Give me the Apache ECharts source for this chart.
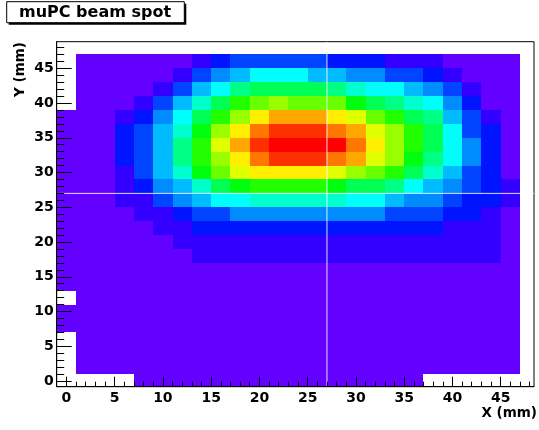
<!DOCTYPE html>
<html>
<head>
<meta charset="utf-8">
<script src="https://cdn.jsdelivr.net/npm/echarts@6/dist/echarts.min.js"></script>
<style>
  html, body { margin: 0; padding: 0; background: #fff; }
  #chart { width: 539px; height: 430px; }
</style>
</head>
<body>
<div id="chart"></div>
<script>
// bin centres in mm, every bin is 2 mm wide
var xBins = [0, 2, 4, 6, 8, 10, 12, 14, 16, 18, 20, 22, 24, 26, 28, 30, 32, 34, 36, 38, 40, 42, 44, 46];
// rows listed top to bottom, same order as zRows
var yBins = [46, 44, 42, 40, 38, 36, 34, 32, 30, 28, 26, 24, 22, 20, 18, 16, 14, 12, 10, 8, 6, 4, 2, 0];

// contour level of each bin (0 = lowest filled, 19 = peak), null = empty bin
var N = null;
var zRows = [
  [N, 0, 0, 0, 0, 0, 0, 1, 2, 3, 3, 3, 3, 3, 2, 2, 2, 1, 1, 1, 0, 0, 0, 0],
  [N, 0, 0, 0, 0, 0, 1, 3, 4, 5, 6, 6, 6, 5, 5, 4, 4, 3, 3, 2, 1, 0, 0, 0],
  [N, 0, 0, 0, 0, 1, 3, 5, 6, 8, 9, 9, 9, 9, 8, 7, 6, 6, 5, 4, 3, 1, 0, 0],
  [N, 0, 0, 0, 1, 3, 5, 7, 9, 11, 12, 13, 12, 12, 12, 10, 9, 8, 7, 6, 4, 2, 0, 0],
  [0, 0, 0, 1, 2, 4, 6, 9, 11, 13, 15, 16, 16, 16, 15, 14, 12, 11, 9, 8, 5, 3, 1, 0],
  [0, 0, 0, 2, 3, 5, 7, 10, 13, 15, 17, 18, 18, 18, 17, 16, 14, 13, 11, 9, 6, 3, 2, 0],
  [0, 0, 0, 2, 3, 5, 8, 11, 14, 16, 18, 19, 19, 19, 19, 17, 15, 13, 11, 9, 6, 4, 2, 0],
  [0, 0, 0, 2, 3, 5, 8, 11, 13, 15, 17, 18, 18, 18, 17, 16, 14, 13, 10, 8, 6, 4, 2, 0],
  [0, 0, 0, 1, 3, 5, 7, 10, 12, 14, 15, 15, 15, 15, 14, 13, 12, 11, 9, 7, 5, 3, 2, 0],
  [0, 0, 0, 1, 2, 4, 5, 7, 9, 10, 11, 11, 11, 11, 10, 9, 9, 8, 6, 5, 4, 3, 2, 1],
  [0, 0, 0, 1, 1, 3, 4, 5, 6, 6, 7, 7, 7, 7, 7, 6, 6, 5, 4, 4, 3, 2, 2, 1],
  [0, 0, 0, 0, 1, 1, 2, 3, 3, 4, 4, 4, 4, 4, 4, 4, 4, 3, 3, 3, 2, 2, 1, 0],
  [0, 0, 0, 0, 0, 1, 1, 2, 2, 2, 2, 2, 2, 2, 2, 2, 2, 2, 2, 2, 1, 1, 1, 0],
  [0, 0, 0, 0, 0, 0, 1, 1, 1, 1, 1, 1, 1, 1, 1, 1, 1, 1, 1, 1, 1, 1, 1, 0],
  [0, 0, 0, 0, 0, 0, 0, 1, 1, 1, 1, 1, 1, 1, 1, 1, 1, 1, 1, 1, 1, 1, 1, 0],
  [0, 0, 0, 0, 0, 0, 0, 0, 0, 0, 0, 0, 0, 0, 0, 0, 0, 0, 0, 0, 0, 0, 0, 0],
  [0, 0, 0, 0, 0, 0, 0, 0, 0, 0, 0, 0, 0, 0, 0, 0, 0, 0, 0, 0, 0, 0, 0, 0],
  [N, 0, 0, 0, 0, 0, 0, 0, 0, 0, 0, 0, 0, 0, 0, 0, 0, 0, 0, 0, 0, 0, 0, 0],
  [0, 0, 0, 0, 0, 0, 0, 0, 0, 0, 0, 0, 0, 0, 0, 0, 0, 0, 0, 0, 0, 0, 0, 0],
  [0, 0, 0, 0, 0, 0, 0, 0, 0, 0, 0, 0, 0, 0, 0, 0, 0, 0, 0, 0, 0, 0, 0, 0],
  [N, 0, 0, 0, 0, 0, 0, 0, 0, 0, 0, 0, 0, 0, 0, 0, 0, 0, 0, 0, 0, 0, 0, 0],
  [N, 0, 0, 0, 0, 0, 0, 0, 0, 0, 0, 0, 0, 0, 0, 0, 0, 0, 0, 0, 0, 0, 0, 0],
  [N, 0, 0, 0, 0, 0, 0, 0, 0, 0, 0, 0, 0, 0, 0, 0, 0, 0, 0, 0, 0, 0, 0, 0],
  [N, N, N, N, 0, 0, 0, 0, 0, 0, 0, 0, 0, 0, 0, 0, 0, 0, 0, N, N, N, N, N]
];

var majorTicks = [0, 5, 10, 15, 20, 25, 30, 35, 40, 45];
var minorTicks = [];
for (var t = 0; t <= 48; t++) if (t % 5 !== 0) minorTicks.push(t);

var crossX = 27, crossY = 27;
var xMin = -1, xMax = 48.45;
var yMin = -0.82, yMax = 48.83;

// ROOT "pretty" palette, 20 contour colours
var palette = ['#6300ff', '#3300ff', '#0014ff', '#0044ff', '#008bff', '#00bbff', '#00fffc',
  '#00ffcc', '#00ff85', '#00ff55', '#00ff0e', '#22ff00', '#69ff00', '#99ff00', '#e0ff00',
  '#ffee00', '#ffa700', '#ff7700', '#ff3000', '#ff0000'];

var bins = [];
zRows.forEach(function (row, r) {
  row.forEach(function (v, c) {
    if (v !== null) bins.push([xBins[c], yBins[r], v]);
  });
});

var font = '"DejaVu Sans", sans-serif';

function renderBin(params, api) {
  var x = api.value(0), y = api.value(1);
  var a = api.coord([x - 1, y + 1]);
  var b = api.coord([x + 1, y - 1]);
  var cs = params.coordSys;
  var r = echarts.graphic.clipRectByRect(
    { x: a[0], y: a[1], width: b[0] - a[0], height: b[1] - a[1] },
    { x: cs.x, y: cs.y, width: cs.width, height: cs.height }
  );
  if (!r) return;
  // snap edges to whole pixels so neighbouring bins meet without seams
  var x0 = Math.round(r.x), y0 = Math.round(r.y);
  var x1 = Math.round(r.x + r.width), y1 = Math.round(r.y + r.height);
  return {
    type: 'rect',
    shape: { x: x0, y: y0, width: x1 - x0, height: y1 - y0 },
    style: { fill: api.visual('color'), stroke: null, lineWidth: 0 }
  };
}

function valueAxis(min, max, pos, tickLen, ticks, labels) {
  return {
    type: 'value', min: min, max: max, position: pos, z: 5,
    axisLine: { show: labels, onZero: false, lineStyle: { color: '#000', width: 1 } },
    axisTick: { show: true, inside: true, length: tickLen, customValues: ticks, lineStyle: { color: '#000', width: 1 } },
    axisLabel: labels ? {
      customValues: ticks, margin: pos === 'left' ? 3 : 5, color: '#000',
      fontFamily: font, fontWeight: 'bold', fontSize: 14
    } : { show: false },
    splitLine: { show: false }
  };
}

var chart = echarts.init(document.getElementById('chart'));
chart.setOption({
  animation: false,
  backgroundColor: '#fff',
  grid: { left: 56.7, right: 5, top: 41.7, bottom: 43.3, show: true, borderColor: '#000', borderWidth: 1, backgroundColor: 'transparent' },
  xAxis: [
    valueAxis(xMin, xMax, 'bottom', 10, majorTicks, true),
    valueAxis(xMin, xMax, 'bottom', 5, minorTicks, false)
  ],
  yAxis: [
    valueAxis(yMin, yMax, 'left', 15, majorTicks, true),
    valueAxis(yMin, yMax, 'left', 7.5, minorTicks, false)
  ],
  visualMap: {
    show: false, type: 'continuous', min: 0, max: 19, dimension: 2, seriesIndex: 0,
    inRange: { color: palette }
  },
  series: [
    { type: 'custom', renderItem: renderBin, data: bins, xAxisIndex: 0, yAxisIndex: 0, silent: true },
    { type: 'line', data: [[crossX, yMin], [crossX, yMax]], showSymbol: false, silent: true, z: 3,
      lineStyle: { color: '#ffffff', width: 1, opacity: 0.85 } },
    { type: 'line', data: [[xMin, crossY], [xMax, crossY]], showSymbol: false, silent: true, z: 3,
      lineStyle: { color: '#ffffff', width: 1, opacity: 0.85 } }
  ],
  graphic: [
    { type: 'rect', shape: { x: 8.7, y: 3.7, width: 177.6, height: 21 }, style: { fill: '#000' } },
    { type: 'rect', shape: { x: 6.7, y: 1.7, width: 177.6, height: 21 }, style: { fill: '#fff', stroke: '#000', lineWidth: 1 } },
    { type: 'text', x: 19, y: 12.5, style: { text: 'muPC beam spot', font: 'bold 16px ' + font, fill: '#000', align: 'left', verticalAlign: 'middle' } },
    { type: 'text', x: 537, y: 413, style: { text: 'X (mm)', font: 'bold 13.5px ' + font, fill: '#000', align: 'right', verticalAlign: 'middle' } },
    { type: 'text', x: 20, y: 42, rotation: Math.PI / 2, style: { text: 'Y (mm)', font: 'bold 13.5px ' + font, fill: '#000', align: 'right', verticalAlign: 'middle' } }
  ]
});
</script>
</body>
</html>
